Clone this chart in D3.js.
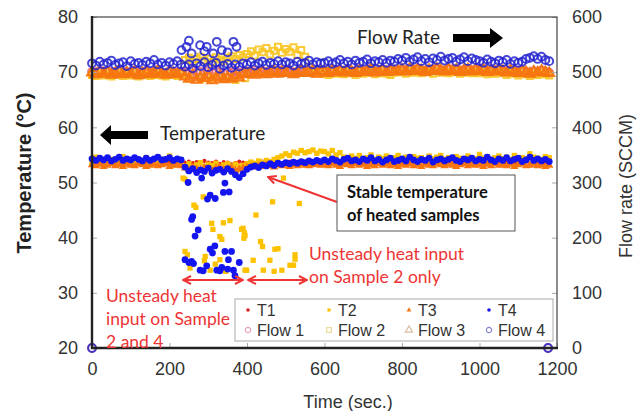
<!DOCTYPE html>
<html>
<head>
<meta charset="utf-8">
<script src="https://cdn.jsdelivr.net/npm/d3@7"></script>
<style>
body { margin: 0; background: #fff; }
svg { display: block; }
</style>
</head>
<body>
<script>
"use strict";

//Width and height
let w = 640;
let h = 411;

// sample times (sec.)
const time = d3.range(0, 1181, 10);

// temperatures (°C)
const t1 = [53.6,53.4,53.7,53.5,53.3,53.6,53.8,53.4,53.5,53.7,53.3,53.6,53.5,53.4,53.7,53.6,53.3,53.5,53.8,53.4,53.6,53.5,53.7,53.4,
    53.6,53.8,53.5,53.7,53.4,53.9,53.6,53.5,53.8,53.4,53.7,53.6,53.3,53.5,53.8,53.6,
    53.5,53.7,53.4,53.6,53.8,53.5,53.3,53.6,53.7,53.4,53.5,53.8,53.6,53.4,53.7,53.5,53.3,53.6,53.8,53.5,
    53.6,53.4,53.7,53.5,53.8,53.3,53.6,53.5,53.7,53.4,53.6,53.8,53.5,53.3,53.7,53.6,53.4,53.5,53.8,53.6,
    53.4,53.7,53.5,53.3,53.6,53.8,53.5,53.4,53.7,53.6,53.5,53.3,53.8,53.6,53.4,53.7,53.5,53.6,53.3,53.8,
    53.5,53.7,53.4,53.6,53.5,53.8,53.3,53.6,53.7,53.4,53.5,53.6,53.8,53.4,53.7,53.5,53.3,53.6,53.5];
const t2 = [53.8,54.6,53.6,54.0,53.7,54.2,53.9,53.6,54.7,53.8,54.0,53.7,54.1,53.9,54.5,53.6,54.0,53.8,54.2,53.7,54.8,53.9,54.0,53.6,
    53.0,53.4,52.8,53.2,53.6,52.9,53.3,53.1,53.5,52.8,53.2,53.4,53.0,53.3,52.9,53.1,
    53.4,53.7,53.5,53.9,53.6,54.0,53.8,54.2,54.5,54.8,55.2,54.9,55.5,55.3,55.8,55.4,55.6,55.9,55.3,55.7,
    55.6,55.2,55.8,55.0,55.4,
    54.6,54.2,54.8,54.4,54.9,54.3,54.5,55.0,54.2,54.6,54.4,54.8,54.1,54.5,54.9,54.3,54.6,54.2,54.7,54.4,
    54.5,54.1,54.8,54.3,54.6,54.9,54.2,54.5,54.3,54.7,54.4,54.2,54.8,54.5,54.3,55.1,54.4,54.6,54.2,54.5,
    54.8,54.3,54.6,54.2,54.9,54.4,54.5,54.3,55.2,54.6,54.4,54.2,54.7,54.5];
const t3 = [53.2,53.0,53.3,52.9,53.1,53.4,53.0,53.2,52.9,53.3,53.1,53.0,53.4,53.2,52.9,53.1,53.3,53.0,53.2,53.4,52.9,53.1,53.2,53.0,
    52.6,52.3,52.8,52.4,52.2,52.7,52.5,52.1,52.6,52.8,52.3,52.5,52.7,52.2,52.4,52.6,
    52.7,52.9,52.8,53.0,52.9,53.1,53.0,52.8,53.2,53.0,53.1,52.9,53.2,53.0,53.3,53.1,53.0,53.2,53.3,53.1,
    53.2,53.0,53.4,53.1,52.9,53.3,53.2,53.0,53.4,53.1,53.3,52.9,53.2,53.0,53.4,53.1,53.3,53.0,53.2,52.9,
    53.3,53.1,53.4,53.0,53.2,52.9,53.3,53.1,53.0,53.4,53.2,53.0,53.3,53.1,52.9,53.2,53.4,53.0,53.3,53.1,
    53.2,52.9,53.3,53.0,53.4,53.1,53.2,53.0,53.3,52.9,53.2,53.4,53.0,53.1,53.3,53.0,53.2,52.9,53.1];
const t4 = [54.3,54.0,54.4,54.1,54.5,53.9,54.2,54.6,54.0,54.3,54.1,54.5,54.2,53.9,54.4,54.0,54.3,54.6,54.1,54.2,54.5,54.0,54.3,54.1,
    52.8,52.1,52.5,51.8,52.3,52.0,52.6,51.7,52.2,52.4,51.9,52.5,52.0,51.4,50.9,51.6,
    52.4,52.8,53.0,52.7,53.2,53.0,53.4,53.1,53.5,53.3,53.6,53.4,53.7,53.5,53.8,53.6,53.9,53.7,54.0,53.8,
    54.1,53.8,54.3,54.0,53.7,54.2,54.4,53.9,54.1,53.8,54.3,54.0,54.5,53.9,54.2,53.7,54.1,54.4,53.8,54.0,
    54.3,53.9,54.6,54.1,53.8,54.2,54.0,54.4,53.7,54.1,54.3,53.9,54.2,54.5,54.0,53.8,54.3,54.1,54.4,53.9,
    54.2,54.0,54.6,54.1,53.8,54.3,54.0,54.5,53.9,54.2,54.4,53.8,54.1,54.6,54.0,54.3,53.9,54.2,53.8];

// scattered low readings during unsteady heating [time, °C]
const t2Drops = [[235,50.8],[240,50.6],[287,47.4],[263,45.9],[268,45.5],[309,42.6],[339,42.7],[356,43.1],[312,41.5],[386,41.5],
    [330,40.2],[335,39.7],[240,37.5],[246,36.9],[292,36.6],[290,35.8],[330,36.0],[318,35.2],[253,34.5],[305,34.1],
    [345,33.9],[395,34.1],[494,50.8],[466,46.5],[535,46.2],[423,44.1],[390,41.7],[393,40.9],[395,40.4],[392,39.9],
    [435,39.3],[440,38.4],[472,37.9],[480,38.0],[524,36.9],[524,36.1],[416,35.9],[459,35.9],[511,35.0],[520,35.0],
    [442,34.1],[399,34.1],[490,34.1],[470,33.9]];
const t4Drops = [[248,50.0],[283,50.8],[343,49.9],[305,47.7],[298,47.0],[339,48.2],[260,43.8],[257,43.3],[274,41.4],[266,40.3],
    [317,38.5],[305,37.9],[343,37.5],[360,37.5],[311,37.2],[352,36.0],[380,35.5],[240,36.0],[257,35.7],[296,34.9],
    [335,34.6],[279,34.1],[287,34.0],[322,34.1],[365,34.1],[369,33.1],[250,35.5],[262,35.3],[330,34.0],[350,34.3],
    [354,48.3],[318,47.1]];

// flow rates (SCCM)
const flow1 = [501,498,503,499,502,497,500,504,498,501,499,503,497,500,502,498,501,504,499,497,502,500,498,501,
    500,497,503,499,501,496,502,498,504,500,497,501,499,503,498,500,
    501,499,503,500,502,498,504,501,499,503,500,502,498,501,504,500,502,499,503,501,
    502,500,504,501,503,499,505,502,500,504,501,503,506,500,502,505,501,504,502,503,
    505,502,507,503,506,504,501,505,503,507,504,502,506,503,505,501,504,506,502,505,
    503,506,501,504,502,505,503,500,504,502,499,503,501,498,502,500,503,501,499];
const flow2 = [495,493,497,494,496,492,495,498,493,496,494,497,492,495,496,493,495,498,494,492,496,495,493,495,
    522,526,519,524,528,521,525,518,527,523,520,526,529,524,531,527,
    533,538,530,541,536,544,532,539,546,535,542,537,545,531,540,528,510,502,499,497,
    498,495,500,497,499,496,501,498,495,500,497,499,502,496,498,500,497,495,499,501,
    500,497,502,499,501,498,503,500,497,502,499,501,498,500,502,497,499,501,498,500,
    498,501,496,499,497,500,498,495,499,497,494,498,496,493,497,495,498,496,494];
const flow3 = [499,496,501,497,500,495,498,502,496,499,497,501,494,498,500,496,499,502,497,495,500,498,496,499,
    492,488,495,486,491,489,494,485,490,493,487,491,488,494,490,496,
    497,500,495,498,501,496,499,502,497,500,498,501,496,499,503,498,500,502,497,501,
    501,498,503,500,502,499,504,501,498,503,500,502,505,499,501,504,500,503,501,502,
    504,501,506,502,505,503,500,504,502,506,503,501,505,502,504,500,503,505,501,504,
    502,505,500,503,501,504,502,499,503,501,498,502,500,497,501,499,502,500,498];
const flow4 = [516,512,519,514,517,521,513,516,518,511,520,515,517,513,519,516,522,514,517,512,518,515,520,514,
    510,514,507,516,511,518,509,513,517,506,512,515,508,514,510,516,
    514,518,512,516,519,513,517,515,520,514,518,516,512,519,515,517,521,514,518,516,
    517,520,515,518,522,516,519,514,521,517,519,523,516,520,518,522,517,521,519,524,
    521,526,519,523,527,520,524,518,525,522,528,521,524,526,519,523,527,520,525,522,
    520,517,523,519,516,521,518,522,515,520,517,519,524,526,529,524,528,522,520];
const flow2Extra = [[250,489],[280,487],[310,490],[340,488],[370,486],[395,489]];
const flow4Extra = [[231,540],[244,546],[250,557],[257,534],[279,549],[296,546],[313,534],[322,555],[335,540],[365,555],
    [373,546],[290,538],[350,536]];
const flowZero = [[0,0],[1177,0]];

const tempTicks = [20, 30, 40, 50, 60, 70, 80];
const flowTicks = [0, 100, 200, 300, 400, 500, 600];
const timeTicks = [0, 200, 400, 600, 800, 1000, 1200];

let svg = d3.select("body")
    .append("svg")
    .attr("width", w)
    .attr("height", h);

let x = d3.scaleLinear().domain([0, 1200]).range([92, 557]);
let yT = d3.scaleLinear().domain([20, 80]).range([348, 17]);
let yF = d3.scaleLinear().domain([0, 600]).range([348, 17]);

let series = [
    {name: "Flow 1", values: flow1, extra: flowZero, y: yF, type: d3.symbolCircle, size: 48, fill: "none", stroke: "#e0607a", op: 0.8, sw: 2},
    {name: "Flow 2", values: flow2, extra: flow2Extra, y: yF, type: d3.symbolSquare, size: 36, fill: "none", stroke: "#f8c420", op: 0.9, sw: 2},
    {name: "Flow 3", values: flow3, extra: [], y: yF, type: d3.symbolTriangle, size: 38, fill: "none", stroke: "#f57510", op: 0.95, sw: 2.3},
    {name: "Flow 4", values: flow4, extra: flow4Extra.concat(flowZero), y: yF, type: d3.symbolCircle, size: 48, fill: "none", stroke: "#2626d0", op: 0.85, sw: 2}
    ,
    {name: "T1", values: t1, extra: [], y: yT, type: d3.symbolCircle, size: 14, fill: "#e02020", stroke: "none", op: 1, sw: 0},
    {name: "T2", values: t2, extra: t2Drops, y: yT, type: d3.symbolSquare, size: 28, fill: "#fcc200", stroke: "none", op: 1, sw: 0},
    {name: "T3", values: t3, extra: [], y: yT, type: d3.symbolTriangle, size: 30, fill: "#f7740e", stroke: "none", op: 1, sw: 0},
    {name: "T4", values: t4, extra: t4Drops, y: yT, type: d3.symbolCircle, size: 36, fill: "#1414f0", stroke: "none", op: 1, sw: 0}
];

series.forEach(s => {
    let pts = time.map((t, i) => [t, s.values[i]]).concat(s.extra);
    svg.append("g")
        .selectAll("path")
        .data(pts)
        .enter().append("path")
        .attr("transform", d => `translate(${x(d[0])},${s.y(d[1])})`)
        .attr("d", d3.symbol().type(s.type).size(s.size))
        .attr("fill", s.fill)
        .attr("stroke", s.stroke)
        .attr("stroke-width", s.sw)
        .attr("stroke-opacity", s.op);
});

// axes, ticks point inward
let axisFont = "'Liberation Sans', Arial, sans-serif";

let gl = svg.append("g")
    .attr("transform", "translate(92,0)")
    .call(d3.axisLeft(yT).tickValues(tempTicks).tickSizeInner(-5).tickSizeOuter(0).tickPadding(14));
let gr = svg.append("g")
    .attr("transform", "translate(557,0)")
    .call(d3.axisRight(yF).tickValues(flowTicks).tickSizeInner(-5).tickSizeOuter(0).tickPadding(15));
let gb = svg.append("g")
    .attr("transform", "translate(0,348)")
    .call(d3.axisBottom(x).tickValues(timeTicks).tickFormat(d3.format("d"))
        .tickSizeInner(-5).tickSizeOuter(0).tickPadding(14));

[gl, gr, gb].forEach(g => {
    g.select(".domain").remove();
    g.selectAll(".tick line").attr("stroke", "#aaa");
    g.selectAll(".tick text")
        .attr("font-family", axisFont)
        .attr("font-size", 18)
        .attr("fill", "#333");
});

svg.append("rect")
    .attr("x", 92).attr("y", 17)
    .attr("width", 465).attr("height", 331)
    .attr("fill", "none")
    .attr("stroke", "#444")
    .attr("stroke-width", 1.2);
svg.append("path")
    .attr("d", "M92,16V348H558")
    .attr("fill", "none")
    .attr("stroke", "#222")
    .attr("stroke-width", 2.4);

// axis titles
svg.append("text")
    .attr("transform", "translate(31,173) rotate(-90)")
    .attr("text-anchor", "middle")
    .attr("font-family", axisFont)
    .attr("font-weight", "bold")
    .attr("font-size", 20)
    .attr("fill", "#222")
    .text("Temperature (°C)");
svg.append("text")
    .attr("transform", "translate(632,186) rotate(-90)")
    .attr("text-anchor", "middle")
    .attr("font-family", axisFont)
    .attr("font-size", 18)
    .attr("fill", "#333")
    .text("Flow rate (SCCM)");
svg.append("text")
    .attr("x", 348).attr("y", 408)
    .attr("text-anchor", "middle")
    .attr("font-family", axisFont)
    .attr("font-size", 18)
    .attr("fill", "#333")
    .text("Time (sec.)");

// legend
let legend = svg.append("g");
legend.append("rect")
    .attr("x", 235).attr("y", 299)
    .attr("width", 318).attr("height", 42)
    .attr("fill", "#fff")
    .attr("stroke", "#aaa");

const legendCols = [248, 329, 409, 489];
let legendItems = [
    {s: series[4], col: 0, row: 0, fill: "#e02020", stroke: "none"},
    {s: series[5], col: 1, row: 0, fill: "#fcc200", stroke: "none"},
    {s: series[6], col: 2, row: 0, fill: "#f7740e", stroke: "none"},
    {s: series[7], col: 3, row: 0, fill: "#1414f0", stroke: "none"},
    {s: series[0], col: 0, row: 1, fill: "none", stroke: "#e8a0b4"},
    {s: series[1], col: 1, row: 1, fill: "none", stroke: "#ecdc9c"},
    {s: series[2], col: 2, row: 1, fill: "none", stroke: "#d8bca0"},
    {s: series[3], col: 3, row: 1, fill: "none", stroke: "#8484d4"}
];
legendItems.forEach(d => {
    let cx = legendCols[d.col];
    let cy = 310 + d.row * 20;
    legend.append("path")
        .attr("transform", `translate(${cx},${cy})`)
        .attr("d", d3.symbol().type(d.s.type).size(d.row ? 22 : 10))
        .attr("fill", d.fill)
        .attr("stroke", d.stroke)
        .attr("stroke-width", 1.2);
    legend.append("text")
        .attr("x", cx + 9).attr("y", cy + 6)
        .attr("font-family", axisFont)
        .attr("font-size", 16)
        .attr("fill", "#333")
        .text(d.s.name);
});

// annotations
let noteFont = "Lato, 'Open Sans', sans-serif";
let red = "#ee3434";

svg.append("text")
    .attr("x", 357).attr("y", 44)
    .attr("font-family", noteFont)
    .attr("font-size", 19)
    .attr("fill", "#222")
    .text("Flow Rate");
svg.append("path")
    .attr("d", "M453,34H490V28L503,38L490,48V42H453Z")
    .attr("fill", "#000");
svg.append("text")
    .attr("x", 160).attr("y", 140)
    .attr("font-family", noteFont)
    .attr("font-size", 19)
    .attr("fill", "#222")
    .text("Temperature");
svg.append("path")
    .attr("d", "M148,131H111V125L100,135L111,145V139H148Z")
    .attr("fill", "#000");

svg.append("defs").append("marker")
    .attr("id", "head")
    .attr("viewBox", "0 0 10 10")
    .attr("refX", 9).attr("refY", 5)
    .attr("markerWidth", 10).attr("markerHeight", 10)
    .attr("markerUnits", "userSpaceOnUse")
    .attr("orient", "auto-start-reverse")
    .append("path")
    .attr("d", "M1,1L9,5L1,9")
    .attr("fill", "none")
    .attr("stroke", red)
    .attr("stroke-width", 2);

svg.append("line")
    .attr("x1", 337).attr("y1", 202)
    .attr("x2", 268).attr("y2", 177)
    .attr("stroke", red).attr("stroke-width", 2)
    .attr("marker-end", "url(#head)");
[[183, 243], [248, 307]].forEach(p => {
    svg.append("line")
        .attr("x1", p[0]).attr("y1", 280)
        .attr("x2", p[1]).attr("y2", 280)
        .attr("stroke", red).attr("stroke-width", 2)
        .attr("marker-start", "url(#head)")
        .attr("marker-end", "url(#head)");
});

svg.append("rect")
    .attr("x", 337).attr("y", 175)
    .attr("width", 178).attr("height", 56)
    .attr("fill", "#fff")
    .attr("stroke", "#555");
svg.append("text")
    .attr("font-family", noteFont)
    .attr("font-weight", "bold")
    .attr("font-size", 16.5)
    .attr("fill", "#111")
    .selectAll("tspan")
    .data(["Stable temperature", "of heated samples"])
    .enter().append("tspan")
    .attr("x", 347)
    .attr("y", (d, i) => 198 + i * 23)
    .text(d => d);

svg.append("text")
    .attr("font-family", noteFont)
    .attr("font-size", 17.5)
    .attr("fill", red)
    .selectAll("tspan")
    .data(["Unsteady heat input", "on Sample 2 only"])
    .enter().append("tspan")
    .attr("x", 309)
    .attr("y", (d, i) => 260 + i * 23)
    .text(d => d);
svg.append("text")
    .attr("font-family", noteFont)
    .attr("font-size", 17.5)
    .attr("fill", red)
    .selectAll("tspan")
    .data(["Unsteady heat", "input on Sample", "2 and 4"])
    .enter().append("tspan")
    .attr("x", 106)
    .attr("y", (d, i) => 302 + i * 23)
    .text(d => d);
</script>
</body>
</html>
